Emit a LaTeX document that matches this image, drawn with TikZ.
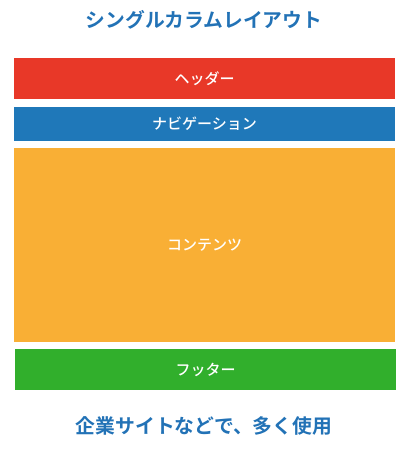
\documentclass[tikz,border=0pt]{standalone}
\usepackage{fontspec}
\newfontfamily\jpfont{Noto Sans CJK JP Medium}
\newfontfamily\jpbold{Noto Sans CJK JP Bold}
\definecolor{titleblue}{HTML}{2272B6}
\definecolor{hdred}{HTML}{E83828}
\definecolor{navblue}{HTML}{1F78B9}
\definecolor{mainorange}{HTML}{F9AF35}
\definecolor{ftgreen}{HTML}{31AF2C}
\begin{document}
\begin{tikzpicture}[x=1pt,y=-1pt]
	\tikzset{block/.style={rectangle,inner sep=0pt,minimum width=381pt,text=white,font=\jpfont\fontsize{15}{15}\selectfont},
		caption/.style={text=titleblue,inner sep=0pt,font=\jpbold\fontsize{19.8}{20}\selectfont}}
	\useasboundingbox (0,0) rectangle (417,449);
	\node[caption] (title) at (204,20) {シングルカラムレイアウト};
	\node[block,fill=hdred,minimum height=41pt] (header) at (204.5,78.5) {ヘッダー};
	\node[block,fill=navblue,minimum height=34pt] (nav) at (204.5,124) {ナビゲーション};
	\node[block,fill=mainorange,minimum height=194pt] (content) at (204.5,245) {コンテンツ};
	\node[block,fill=ftgreen,minimum height=41pt] (footer) at (205.5,369.5) {フッター};
	\node[caption] (usage) at (204,426) {企業サイトなどで、多く使用};
\end{tikzpicture}
\end{document}
